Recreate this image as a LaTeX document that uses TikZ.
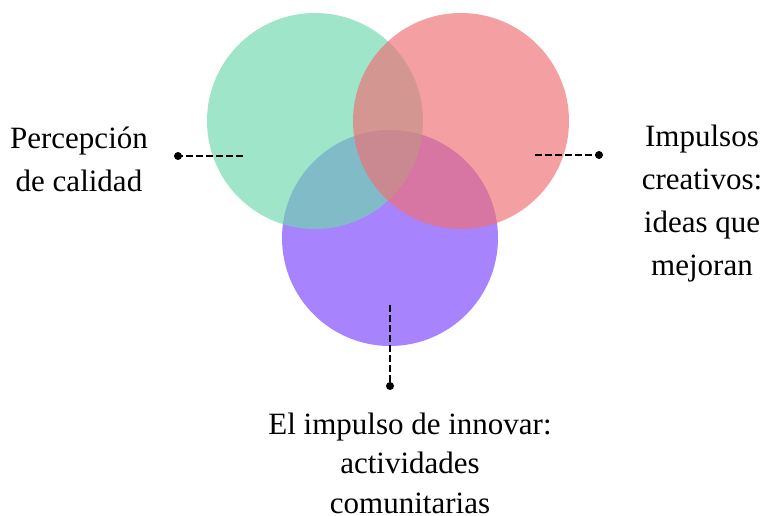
\documentclass[tikz,border=0pt]{standalone}
\usepackage{fontspec}
\setmainfont{Liberation Serif}
\definecolor{cgreen}{RGB}{111,216,174}
\definecolor{cred}{RGB}{238,112,117}
\definecolor{cpurple}{RGB}{126,70,253}
\begin{document}
\begin{tikzpicture}[x=1pt,y=-1pt,
  venn/.style={circle,minimum size=216pt,inner sep=0pt,fill opacity=0.67},
  lbl/.style={align=center,inner sep=0pt,font=\fontsize{31}{43}\selectfont},
  leader/.style={line width=1.6pt,dash pattern=on 7pt off 3pt},
  tip/.style={circle,fill=black,inner sep=0pt,minimum size=8pt}]
\useasboundingbox (0,0) rectangle (765,516);
\node[venn,fill=cpurple] (cp) at (390,238) {};
\node[venn,fill=cgreen] (cg) at (315,121) {};
\node[venn,fill=cred] (cr) at (461,121) {};
\coordinate (lg) at (243,156);
\coordinate (lr) at (535,155);
\coordinate (lp) at (390,305);
\node[tip] (dl) at (178,156) {};
\node[tip] (dr) at (599,155) {};
\node[tip] (dp) at (390,386) {};
\draw[leader] (lg) -- (dl.center);
\draw[leader] (lr) -- (dr.center);
\draw[leader] (lp) -- (dp.center);
\node[lbl] (tl) at (79,159) {Percepción\\de calidad};
\node[lbl] (tr) at (702,204) {Impulsos\\creativos:\\ideas que\\mejoran};
\node[lbl,font=\fontsize{31}{39.5}\selectfont] (tb) at (410,463) {El impulso de innovar:\\actividades\\comunitarias};
\end{tikzpicture}
\end{document}
